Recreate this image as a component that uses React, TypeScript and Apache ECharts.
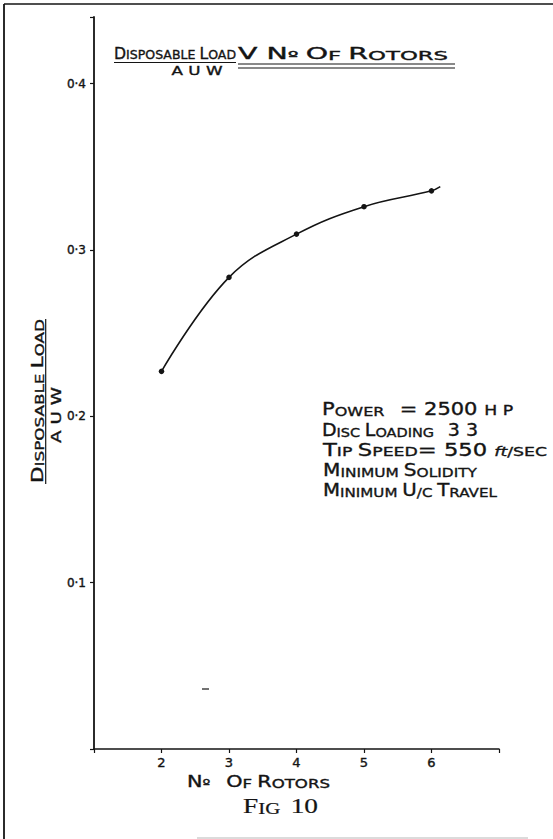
import React, { useEffect, useRef } from 'react';
import * as echarts from 'echarts';

// ---- data ----
const rotors = [2, 3, 4, 5, 6];
const loadRatio = [0.227, 0.2835, 0.3095, 0.326, 0.3355];
const curveEnd = [6.13, 0.338];
const xTicks = [2, 3, 4, 5, 6];
const yTicks = [0.1, 0.2, 0.3, 0.4];
const yTickText = ['0·1', '0·2', '0·3', '0·4'];

const INK = '#141414';
const SANS = 'DejaVu Sans';
const SERIF = 'Liberation Serif';

type Tok = [string, string];
type CapsOpts = {
  tokens: Tok[];
  sizes: Record<string, number>;
  x: number;
  y: number;
  width: number;
  align?: 'left' | 'center' | 'right';
  rotation?: number;
  family?: string;
  weight?: string;
  border?: number;
  italic?: string[];
};

let measureCtx: CanvasRenderingContext2D | null = null;
function measure(text: string, size: number, family: string, weight: string, style: string) {
  if (!measureCtx) measureCtx = document.createElement('canvas').getContext('2d');
  const ctx = measureCtx as CanvasRenderingContext2D;
  ctx.font = `${style} ${weight} ${size}px ${family}`;
  return ctx.measureText(text).width;
}

function caps(o: CapsOpts): any {
  const family = o.family || SANS;
  const weight = o.weight || 'normal';
  const border = o.border === undefined ? 0.35 : o.border;
  const italic = o.italic || [];
  let w = 0;
  for (const [k, t] of o.tokens) {
    w += measure(t, o.sizes[k], family, weight, italic.includes(k) ? 'italic' : 'normal');
  }
  const rich: any = {};
  Object.keys(o.sizes).forEach((k) => {
    rich[k] = {
      fontSize: o.sizes[k],
      fontFamily: family,
      fontWeight: weight,
      fontStyle: italic.includes(k) ? 'italic' : 'normal',
      fill: INK,
      stroke: border > 0 ? INK : 'none',
      lineWidth: border,
      verticalAlign: 'bottom',
    };
  });
  return {
    type: 'text',
    x: o.x,
    y: o.y,
    rotation: o.rotation || 0,
    scaleX: o.width / w,
    silent: true,
    style: {
      text: o.tokens.map(([k, t]) => `{${k}|${t}}`).join(''),
      rich,
      align: o.align || 'left',
      verticalAlign: 'middle',
      fill: INK,
    },
  };
}

function ln(x1: number, y1: number, x2: number, y2: number, w = 1.3, c = INK): any {
  return { type: 'line', silent: true, shape: { x1, y1, x2, y2 }, style: { stroke: c, lineWidth: w } };
}

export default function App() {
  const ref = useRef<HTMLDivElement>(null);
  useEffect(() => {
    if (!ref.current) return;
    const chart = echarts.init(ref.current, null, { renderer: 'svg' });
    const pts: any[] = rotors.map((x, i) => [x, loadRatio[i]]);
    pts.push({ value: curveEnd, symbol: 'none' });

    const graphics: any[] = [
      // frame
      ln(4, 4, 553, 4, 1.6),
      ln(4, 4, 4, 839, 1.8),
      ln(197, 838, 528, 838, 1.2, '#b8b8b8'),
      ln(202, 689, 209, 689, 1.2),
      // title
      caps({ tokens: [['b', 'D'], ['s', 'ISPOSABLE '], ['b', 'L'], ['s', 'OAD']], sizes: { b: 15, s: 12 }, x: 114, y: 54, width: 122 }),
      ln(114, 62.5, 236, 62.5, 1.2),
      caps({ tokens: [['s', 'A U W']], sizes: { s: 12.5 }, x: 197, y: 70, width: 51, align: 'center' }),
      caps({
        tokens: [['b', 'V '], ['b', 'N'], ['s', 'º '], ['b', 'O'], ['s', 'F '], ['b', 'R'], ['s', 'OTORS']],
        sizes: { b: 15, s: 12 },
        x: 238, y: 54, width: 210,
      }),
      ln(238, 64, 455, 64, 1.2),
      ln(238, 68, 455, 68, 1.2),
      // y axis title
      caps({
        tokens: [['b', 'D'], ['s', 'ISPOSABLE '], ['b', 'L'], ['s', 'OAD']],
        sizes: { b: 16, s: 12.5 },
        x: 37.5, y: 401, width: 164, align: 'center', rotation: Math.PI / 2,
      }),
      ln(45.7, 319, 45.7, 484, 1.2),
      caps({ tokens: [['s', 'A U W']], sizes: { s: 14 }, x: 56, y: 415, width: 56, align: 'center', rotation: Math.PI / 2 }),
      // annotation block
      caps({
        tokens: [['b', 'P'], ['s', 'OWER   '], ['b', '= 2500 '], ['m', 'H P']],
        sizes: { b: 17, s: 13, m: 14 }, x: 322, y: 409, width: 191,
      }),
      caps({
        tokens: [['b', 'D'], ['s', 'ISC '], ['b', 'L'], ['s', 'OADING   '], ['b', '3 3']],
        sizes: { b: 17, s: 13 }, x: 322, y: 430, width: 156,
      }),
      caps({
        tokens: [['b', 'T'], ['s', 'IP '], ['b', 'S'], ['s', 'PEED'], ['b', '= 550 '], ['f', 'ft'], ['s', '/SEC']],
        sizes: { b: 17, s: 13, f: 13 }, x: 323, y: 450, width: 224, italic: ['f'],
      }),
      caps({
        tokens: [['b', 'M'], ['s', 'INIMUM '], ['b', 'S'], ['s', 'OLIDITY']],
        sizes: { b: 17, s: 13 }, x: 323, y: 470, width: 154,
      }),
      caps({
        tokens: [['b', 'M'], ['s', 'INIMUM '], ['b', 'U'], ['s', '/C '], ['b', 'T'], ['s', 'RAVEL']],
        sizes: { b: 17, s: 13 }, x: 323, y: 490, width: 174,
      }),
      // x axis title and figure caption
      caps({
        tokens: [['b', 'N'], ['s', 'º   '], ['b', 'O'], ['s', 'F '], ['b', 'R'], ['s', 'OTORS']],
        sizes: { b: 15, s: 12 }, x: 187, y: 782, width: 143,
      }),
      caps({
        tokens: [['b', 'F'], ['s', 'IG  '], ['b', '10']],
        sizes: { b: 21, s: 16 }, x: 243, y: 806, width: 75, family: SERIF, border: 0.2,
      }),
    ];

    chart.setOption({
      animation: false,
      backgroundColor: '#ffffff',
      grid: { left: 94, right: 54, top: 17, bottom: 90, containLabel: false },
      xAxis: {
        type: 'value',
        min: 1,
        max: 7,
        interval: 1,
        axisLine: { show: true, lineStyle: { color: INK, width: 1.5 } },
        axisTick: { show: true, length: 4, lineStyle: { color: INK, width: 1.2 } },
        splitLine: { show: false },
        axisLabel: {
          color: INK,
          fontFamily: SANS,
          fontSize: 13,
          textBorderColor: INK,
          textBorderWidth: 0.4,
          margin: 7,
          formatter: (v: number) => (xTicks.includes(v) ? String(v) : ''),
        },
      },
      yAxis: {
        type: 'value',
        min: 0,
        max: 0.44,
        interval: 0.1,
        axisLine: { show: true, lineStyle: { color: INK, width: 1.8 } },
        axisTick: { show: true, length: 4, lineStyle: { color: INK, width: 1.2 } },
        splitLine: { show: false },
        axisLabel: {
          color: INK,
          fontFamily: SANS,
          fontSize: 12,
          textBorderColor: INK,
          textBorderWidth: 0.4,
          margin: 8,
          formatter: (v: number) => {
            const i = yTicks.findIndex((t) => Math.abs(t - v) < 1e-6);
            return i >= 0 ? yTickText[i] : '';
          },
        },
      },
      series: [
        {
          type: 'line',
          data: pts,
          smooth: 0.4,
          symbol: 'circle',
          symbolSize: 5.5,
          lineStyle: { color: INK, width: 1.6 },
          itemStyle: { color: INK },
        },
      ],
      graphic: graphics,
    });
    return () => chart.dispose();
  }, []);
  return (
    <div
      ref={ref}
      style={{ position: 'fixed', left: 0, top: 0, width: 553, height: 839, background: '#fff' }}
    />
  );
}
